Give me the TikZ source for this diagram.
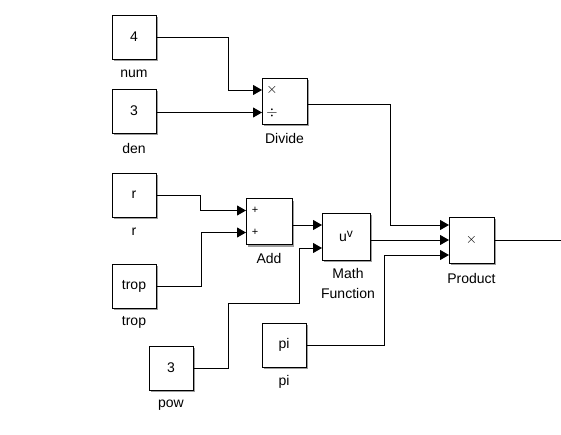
\documentclass[tikz,border=0pt]{standalone}
\usepackage{fontspec}
\setmainfont{Liberation Sans}
\usetikzlibrary{shadows,arrows.meta}
\begin{document}
\begin{tikzpicture}[x=1pt,y=-1pt,
  blk/.style={draw=black,line width=0.9pt,fill=white,minimum width=44pt,minimum height=44pt,inner sep=0pt,
    font=\fontsize{14}{16}\selectfont,
    drop shadow={shadow xshift=2.2pt,shadow yshift=-2.2pt,fill=black!45,opacity=0.85}},
  lbl/.style={font=\fontsize{14}{20}\selectfont,inner sep=1pt},
  wire/.style={draw=black,line width=0.9pt},
  arr/.style={wire,-{Triangle[length=9pt,width=10pt]}},
  sym/.style={font=\fontsize{14}{16}\selectfont,inner sep=0pt}]
\useasboundingbox (0,0) rectangle (561,434);
% source blocks
\node[blk] (num) at (134,37) {4};
\node[lbl] (numl) at (134,74) {num};
\node[blk] (den) at (134,111) {3};
\node[lbl] (denl) at (134,148) {den};
\node[blk] (r) at (134,195) {r};
\node[lbl] (rl) at (134,232) {r};
\node[blk] (trop) at (134,286) {trop};
\node[lbl] (tropl) at (134,322) {trop};
\node[blk] (pow) at (171,368) {3};
\node[lbl] (powl) at (171,405) {pow};
\node[blk] (pi) at (284,345) {pi};
\node[lbl] (pil) at (284,382) {pi};
% operation blocks
\node[blk,minimum width=45pt,minimum height=46pt] (div) at (284.5,101) {};
\node[lbl] (divl) at (284.5,138) {Divide};
\node[sym] (dx) at (272,90) {$\times$};
\node[sym] (dd) at (272,112.5) {$\div$};
\node[blk,minimum width=46pt,minimum height=46pt] (add) at (269,221.5) {};
\node[lbl] (addl) at (269,258) {Add};
\node[sym,font=\fontsize{11}{13}\selectfont] (ap1) at (255,210.5) {+};
\node[sym,font=\fontsize{11}{13}\selectfont] (ap2) at (255,232.5) {+};
\node[blk,minimum width=48pt,minimum height=47pt] (math) at (346,236.5) {u\raisebox{0.55ex}{\fontsize{12}{14}\selectfont v}};
\node[lbl,align=center] (mathl) at (348,283) {Math\\Function};
\node[blk,minimum width=45pt,minimum height=46pt] (prod) at (471.5,240) {$\times$};
\node[lbl] (prodl) at (471.5,278) {Product};
% ports
\coordinate (dvin1) at (262,90);
\coordinate (dvin2) at (262,112.5);
\coordinate (adin1) at (246,210.5);
\coordinate (adin2) at (246,232.5);
\coordinate (mfin1) at (322,225);
\coordinate (mfin2) at (322,248);
\coordinate (prin1) at (449,225);
\coordinate (prin2) at (449,240);
\coordinate (prin3) at (449,255);
\coordinate (outend) at (561,240);
% connectors
\draw[arr] (num.east) -- (228,37) -- (228,90) -- (dvin1);
\draw[arr] (den.east |- dvin2) -- (dvin2);
\draw[arr] (div.east |- 0,104) -- (390,104) -- (390,225) -- (prin1);
\draw[arr] (r.east) -- (200,195) -- (200,210.5) -- (adin1);
\draw[arr] (trop.east) -- (201,286) -- (201,232.5) -- (adin2);
\draw[arr] (add.east |- mfin1) -- (mfin1);
\draw[arr] (pow.east) -- (228,368) -- (228,303) -- (299,303) -- (299,248) -- (mfin2);
\draw[arr] (math.east |- prin2) -- (prin2);
\draw[arr] (pi.east) -- (384,345) -- (384,255) -- (prin3);
\draw[wire] (prod.east) -- (outend);
\end{tikzpicture}
\end{document}
